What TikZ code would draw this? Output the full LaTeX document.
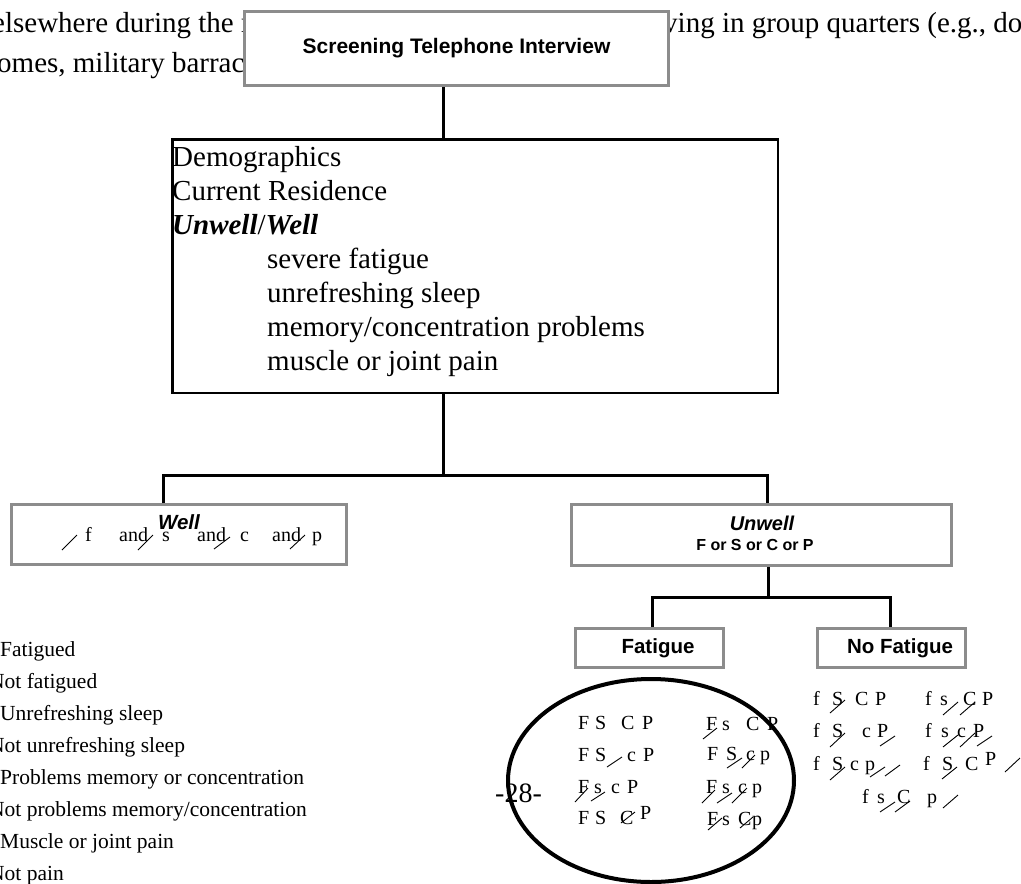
\documentclass[tikz,border=0pt]{standalone}
\usepackage{fontspec}
\setmainfont{Liberation Serif}
\setsansfont{Liberation Sans}
\usepackage{xcolor}
\usepackage{tikz}
\usetikzlibrary{shapes.geometric, positioning}
\definecolor{boxgray}{HTML}{8C8C8C}

\begin{document}
\begin{tikzpicture}[x=1pt, y=-1pt]
\tikzstyle{grbox} = [rectangle, draw=boxgray, line width=3pt, fill=white, inner sep=0pt, font=\sffamily\bfseries\fontsize{20.5}{24}\selectfont]
\tikzstyle{mainbox} = [rectangle, draw, line width=2.5pt, inner sep=0pt, minimum width=605.5pt, minimum height=253.5pt]
\tikzstyle{link} = [line width=3pt]
\tikzstyle{strike} = [line width=0.9pt]
\tikzstyle{doc} = [inner sep=0pt, anchor=base west, font=\fontsize{29}{34}\selectfont]
\tikzstyle{sm} = [inner sep=0pt, anchor=base west, font=\fontsize{20}{24}\selectfont]
\tikzstyle{key} = [inner sep=0pt, anchor=base west, font=\fontsize{21.5}{32}\selectfont]
\tikzstyle{tag} = [inner sep=0pt, anchor=base, font=\sffamily\bfseries\itshape\fontsize{20.5}{24}\selectfont]

\useasboundingbox (0,0) rectangle (1021,884);

\node (para1) [doc] at (-8,32) {elsewhere during the r};
\node (para2) [doc] at (663,32) {ving in group quarters (e.g., do};
\node (para3) [doc] at (-3,72) {omes, military barrac};

\node (interview) [grbox, minimum width=424pt, minimum height=74pt, font=\sffamily\bfseries\fontsize{21}{24}\selectfont] at (456.5,48.5) {Screening Telephone Interview};

\node (screen) [mainbox] at (475,266) {};
\node (screenlist) [anchor=north west, align=left, inner sep=0pt, font=\fontsize{29}{34}\selectfont] at (172,146) {Demographics\\Current Residence\\\textbf{\textit{Unwell}}/\textbf{\textit{Well}}\\\hspace*{95pt}severe fatigue\\\hspace*{95pt}unrefreshing sleep\\\hspace*{95pt}memory/concentration problems\\\hspace*{95pt}muscle or joint pain};

\node (well) [grbox, minimum width=335pt, minimum height=60pt] at (179,534.5) {};
\foreach \x/\t in {85/f, 119/and, 162/s, 197/and, 240/c, 272/and, 312/p}
  \node (wellword\x) [sm] at (\x,541) {\t};
\node (welltitle) [tag] at (179,529) {Well};

\node (unwell) [grbox, minimum width=380pt, minimum height=61pt] at (761.5,535) {};
\node (unwelltitle) [tag, font=\sffamily\bfseries\itshape\fontsize{20}{24}\selectfont] at (762,530) {Unwell};
\node (unwellrule) [tag, font=\sffamily\bfseries\fontsize{16}{20}\selectfont] at (755,550) {F or S or C or P};

\node (fatigue) [grbox, minimum width=148pt, minimum height=39pt] at (649.5,648) {\hspace*{17pt}Fatigue};
\node (nofatigue) [grbox, minimum width=148pt, minimum height=39pt, right=91pt of fatigue] {\hspace*{17pt}No Fatigue};

\coordinate (hub) at (443,475);
\coordinate (lefttap) at (163,475);
\coordinate (righttap) at (767,475);
\coordinate (subhub) at (768,597);
\coordinate (ftap) at (652,597);
\coordinate (nftap) at (890,597);

\draw[link] (interview.south -| hub) -- (screen.north -| hub);
\draw[link] (screen.south -| hub) -- (hub);
\draw[link] (well.north -| lefttap) -- (lefttap) -- (righttap) -- (unwell.north -| righttap);
\draw[link] (unwell.south -| subhub) -- (subhub);
\draw[link] (fatigue.north -| ftap) -- (ftap) -- (nftap) -- (nofatigue.north -| nftap);

\node (fatigued) [ellipse, draw, line width=4pt, minimum width=286pt, minimum height=203pt, inner sep=0pt] at (651,780.5) {};

\foreach \x/\y/\t [count=\i] in {578/729/F, 595/729/S, 621/729/C, 642/729/P,
    578/761/F, 595/761/S, 627/761/c, 643/761/P,
    578/793/F, 594/793/s, 611/793/c, 627/793/P,
    578/824/F, 595/824/S, 620/824/C, 640/819/P,
    706/730/F, 722/730/s, 746/730/C, 767/730/P,
    707/760/F, 726/760/S, 746/760/c, 760/760/p,
    706/793/F, 722/793/s, 738/793/c, 752/793/p,
    707/825/F, 722/825/s, 738/825/C, 752/825/p}
  \node (inside\i) [sm] at (\x,\y) {\t};

\foreach \x/\y/\t [count=\i] in {813/705/f, 832/705/S, 855/705/C, 875/705/P,
    925/705/f, 940/705/s, 963/705/C, 982/705/P,
    813/737/f, 832/737/S, 862/737/c, 877/737/P,
    925/737/f, 941/737/s, 957/737/c, 973/737/P,
    813/770/f, 832/770/S, 850/770/c, 865/770/p,
    923/770/f, 942/770/S, 965/770/C, 985/765/P,
    862/803/f, 877/803/s, 897/803/C, 927/803/p}
  \node (outside\i) [sm] at (\x,\y) {\t};

\foreach \a/\b/\c/\d in {62/550/77/535, 138/550/153/535, 214/549/230/537, 290/549/305/535,
    703/739/717/728, 607/767/622/757, 727/768/742/758, 742/768/755/755,
    575/802/588/788, 591/801/605/792, 702/803/715/790, 717/803/732/793,
    732/803/747/788, 621/823/635/812, 708/830/722/818, 740/828/753/817,
    830/713/845/700, 943/715/958/702, 960/715/975/702, 830/747/845/733,
    880/746/895/736, 943/747/958/735, 960/747/975/733, 977/746/992/736,
    830/780/845/767, 870/777/885/767, 885/776/900/765, 942/779/957/767,
    1005/772/1020/758, 880/812/895/802, 895/812/910/801, 943/808/958/795}
  \draw[strike] (\a,\b) -- (\c,\d);

\node (pageno) [inner sep=0pt, anchor=base west, font=\fontsize{28}{32}\selectfont] at (495,802) {-28-};

\foreach \x/\y/\t in {0/656/Fatigued, -11/688/Not fatigued, 0/720/Unrefreshing sleep,
    -11/752/Not unrefreshing sleep, 0/784/Problems memory or concentration,
    -11/816/{Not problems memory/concentration}, 0/848/Muscle or joint pain, -11/880/Not pain}
  \node (key\y) [key] at (\x,\y) {\t};

\end{tikzpicture}
\end{document}
